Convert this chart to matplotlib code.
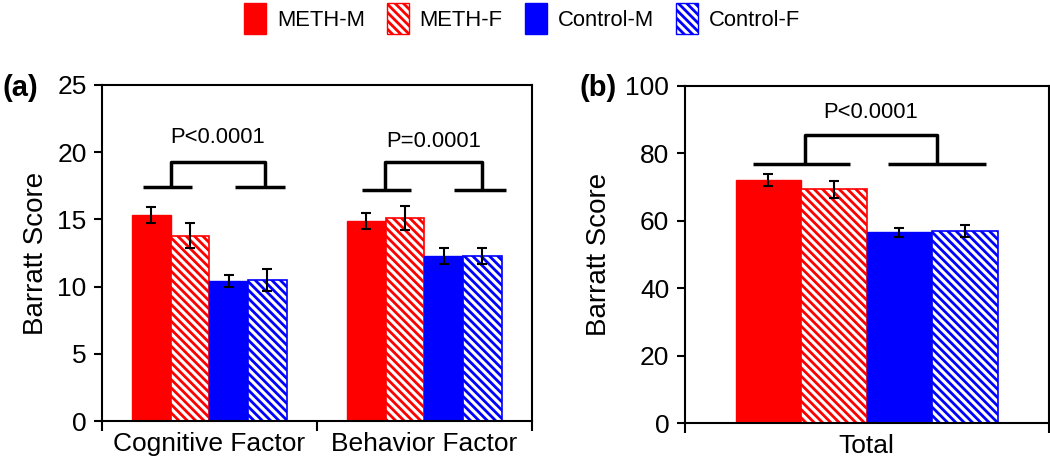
import numpy as np
import matplotlib.pyplot as plt
from matplotlib.patches import Patch

# data
groups = ['METH-M', 'METH-F', 'Control-M', 'Control-F']
factor_labels = ['Cognitive Factor', 'Behavior Factor']
factor_means = {
    'METH-M': [15.3, 14.85],
    'METH-F': [13.8, 15.1],
    'Control-M': [10.45, 12.25],
    'Control-F': [10.5, 12.3],
}
factor_errs = {
    'METH-M': [0.6, 0.6],
    'METH-F': [0.9, 0.9],
    'Control-M': [0.45, 0.6],
    'Control-F': [0.8, 0.6],
}
total_means = [72.2, 69.3, 56.6, 57.0]
total_errs = [1.8, 2.4, 1.4, 1.9]
p_factor = ['P<0.0001', 'P=0.0001']
p_total = 'P<0.0001'

colors = ['#ff0000', '#ff0000', '#0000ff', '#0000ff']
hatches = [None, '\\\\\\\\', None, '\\\\\\\\']

plt.rcParams['font.family'] = ['Liberation Sans', 'DejaVu Sans']
plt.rcParams['font.size'] = 19
plt.rcParams['hatch.linewidth'] = 2.0

fig = plt.figure(figsize=(10.5, 4.67), dpi=100)
ax1 = fig.add_axes([0.097, 0.0985, 0.4095, 0.7195])
ax2 = fig.add_axes([0.652, 0.094, 0.3467, 0.722])

bw = 0.18
offsets = (np.arange(4) - 1.5) * bw


def draw_bar(ax, x, h, e, i):
    if hatches[i] is None:
        ax.bar(x, h, bw, color=colors[i], edgecolor=colors[i], linewidth=1)
    else:
        ax.bar(x, h, bw, color='white', edgecolor=colors[i], hatch=hatches[i], linewidth=1.2)
    ax.errorbar(x, h, yerr=e, fmt='none', ecolor='black', elinewidth=1.5,
                capsize=3.5, capthick=1.5, zorder=5)


def bracket(ax, x_left, x_right, v_left, v_right, y_low, y_high, text, y_text):
    kw = dict(color='black', lw=2.5, solid_capstyle='butt')
    ax.plot(x_left, [y_low, y_low], **kw)
    ax.plot(x_right, [y_low, y_low], **kw)
    ax.plot([v_left, v_left, v_right, v_right], [y_low, y_high, y_high, y_low], **kw)
    ax.text((v_left + v_right) / 2, y_text, text, ha='center', va='center', fontsize=15.8)


# panel (a)
xs = np.arange(len(factor_labels))
for i, g in enumerate(groups):
    draw_bar(ax1, xs + offsets[i], factor_means[g], factor_errs[g], i)

bracket(ax1, [-0.31, -0.08], [0.12, 0.35], -0.18, 0.26, 17.4, 19.3, p_factor[0], 21.1)
bracket(ax1, [0.71, 0.94], [1.14, 1.38], 0.815, 1.27, 17.2, 19.25, p_factor[1], 20.8)

ax1.set_xlim(-0.5, 1.5)
ax1.set_ylim(0, 25)
ax1.set_yticks(np.arange(0, 26, 5))
ax1.set_xticks([-0.5, 0.5, 1.5])
ax1.set_xticklabels([])
ax1.set_xticks(xs, minor=True)
ax1.set_xticklabels(factor_labels, minor=True)
ax1.set_ylabel('Barratt Score', fontsize=20)

# panel (b)
for i in range(4):
    draw_bar(ax2, offsets[i], total_means[i], total_errs[i], i)

bracket(ax2, [-0.313, -0.047], [0.058, 0.327], -0.17, 0.192, 76.9, 85.5, p_total, 92)

ax2.set_xlim(-0.5, 0.5)
ax2.set_ylim(0, 100)
ax2.set_yticks(np.arange(0, 101, 20))
ax2.set_xticks([-0.5, 0.5])
ax2.set_xticklabels([])
ax2.set_xticks([0], minor=True)
ax2.set_xticklabels(['Total'], minor=True)
ax2.set_ylabel('Barratt Score', fontsize=20)

for ax in (ax1, ax2):
    for s in ax.spines.values():
        s.set_linewidth(1.5)
    ax.tick_params(axis='both', which='major', direction='out', length=6, width=1.5,
                   labelsize=19, pad=5)
    ax.tick_params(axis='x', which='major', length=7)
    ax.tick_params(axis='x', which='minor', length=0, pad=8, labelsize=19)
    ax.yaxis.labelpad = 6
ax2.yaxis.labelpad = 10

fig.text(0.002, 0.812, '(a)', fontsize=21, fontweight='bold', va='center')
fig.text(0.552, 0.812, '(b)', fontsize=21, fontweight='bold', va='center')

handles = []
for i, g in enumerate(groups):
    if hatches[i] is None:
        handles.append(Patch(facecolor=colors[i], edgecolor=colors[i], label=g))
    else:
        handles.append(Patch(facecolor='white', edgecolor=colors[i], hatch=hatches[i], label=g))
fig.legend(handles=handles, loc='upper center', bbox_to_anchor=(0.497, 1.035), ncol=4,
           frameon=False, fontsize=15.8, handlelength=1.0, handleheight=1.75,
           handletextpad=0.5, columnspacing=1.0)

fig.savefig('out.png', dpi=100)
